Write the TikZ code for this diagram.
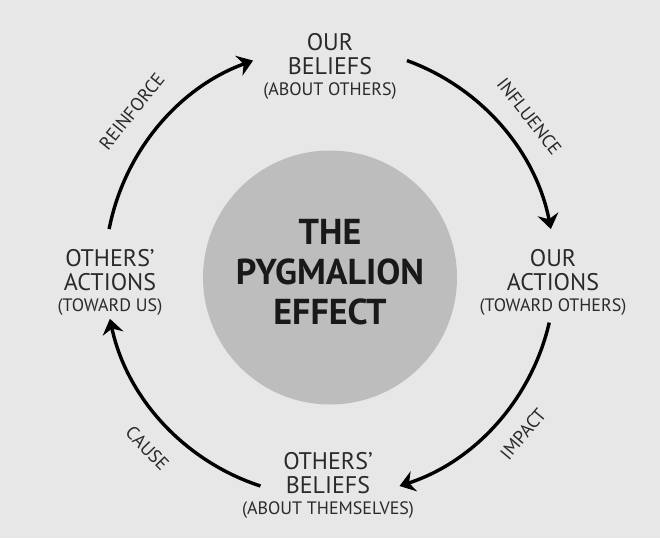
\documentclass[tikz,border=0pt]{standalone}
\usepackage{fontspec}
\setmainfont{PT Sans}
\usepackage{xcolor}
\usepackage{tikz}
\usetikzlibrary{arrows.meta,calc}

\definecolor{bggray}{RGB}{231,231,231}
\definecolor{discgray}{RGB}{189,189,189}
\definecolor{inkgray}{RGB}{42,42,42}

\begin{document}
\begin{tikzpicture}[x=1pt, y=1pt, >={Stealth[length=15pt,width=21pt,inset=5pt]},
  cycle/.style={->, line width=3.4pt, black},
  stage/.style={align=center, text=inkgray, font=\fontsize{24}{24}\selectfont},
  verb/.style={text=inkgray, font=\fontsize{18.5}{18.5}\selectfont}]
  \fill [bggray] (0,0) rectangle (660,538);
  \useasboundingbox (0,0) rectangle (660,538);

  \coordinate (C) at (330,266);
  \node [circle, fill=discgray, minimum size=254pt, inner sep=0pt] (disc) at (330,260.5) {};
  \node [align=center, text=black!90, font=\bfseries\fontsize{36}{40}\selectfont] (title) at (330,266) {THE\\PYGMALION\\EFFECT};

  % the four stages
  \node [stage] (ourbel) at (330,472) {OUR\\BELIEFS\\[-3pt]{\fontsize{18}{18}\selectfont (ABOUT OTHERS)}};
  \node [stage] (ouract) at (553,256) {OUR\\ACTIONS\\[-3pt]{\fontsize{18}{18}\selectfont (TOWARD OTHERS)}};
  \node [stage] (othbel) at (328,53) {OTHERS'\\BELIEFS\\[-3pt]{\fontsize{18}{18}\selectfont (ABOUT THEMSELVES)}};
  \node [stage] (othact) at (110,256) {OTHERS'\\ACTIONS\\[-3pt]{\fontsize{18}{18}\selectfont (TOWARD US)}};

  % arc ends
  \path (C) ++(169:225) coordinate (r0) (C) ++(70:225) coordinate (i0)
        (C) ++(-13:225) coordinate (m0) (C) ++(252:225) coordinate (c0);

  \draw [cycle] (r0) arc [start angle=169, end angle=110, radius=225];
  \draw [cycle] (i0) arc [start angle=70, end angle=11, radius=225];
  \draw [cycle] (m0) arc [start angle=-13, end angle=-72, radius=225];
  \draw [cycle] (c0) arc [start angle=252, end angle=192, radius=225];

  \node [verb, rotate=51] (reinforce) at ($(C)+(141:255)$) {REINFORCE};
  \node [verb, rotate=-52] (influence) at ($(C)+(38:253)$) {INFLUENCE};
  \node [verb, rotate=50] (impact) at ($(C)+(-40:252)$) {IMPACT};
  \node [verb, rotate=-46] (cause) at ($(C)+(224:254)$) {CAUSE};
\end{tikzpicture}
\end{document}
